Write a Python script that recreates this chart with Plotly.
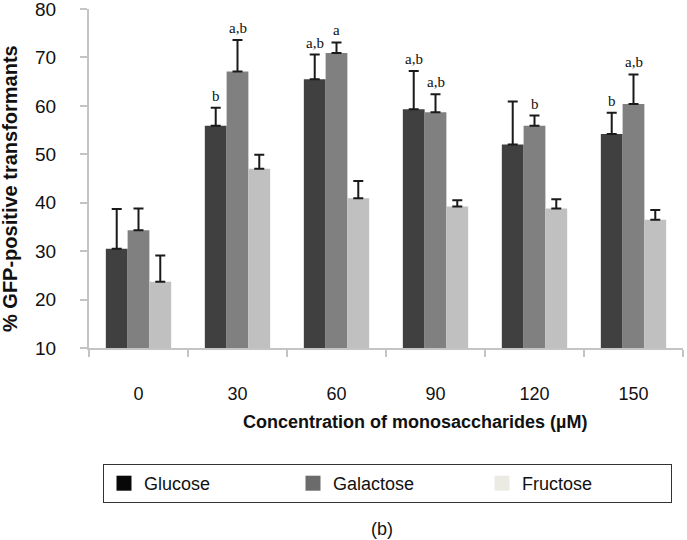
import plotly.graph_objects as go

categories = ["0", "30", "60", "90", "120", "150"]
glucose = [30.5, 55.9, 65.5, 59.3, 52.0, 54.2]
glucose_err = [8.2, 3.7, 5.1, 7.9, 8.9, 4.4]
galactose = [34.3, 67.1, 70.9, 58.7, 55.9, 60.4]
galactose_err = [4.5, 6.5, 2.2, 3.7, 2.1, 6.1]
fructose = [23.7, 47.0, 40.9, 39.2, 38.8, 36.5]
fructose_err = [5.4, 2.9, 3.6, 1.3, 1.9, 2.0]

glucose_marks = ["", "b", "a,b", "a,b", "", "b"]
galactose_marks = ["", "a,b", "a", "a,b", "b", "a,b"]

y_ticks = [10, 20, 30, 40, 50, 60, 70, 80]

series_names = ["Glucose", "Galactose", "Fructose"]
bar_colors = ["#404040", "#808080", "#c0c0c0"]
legend_colors = ["#080808", "#6b6b6b", "#ebebe3"]

TOP = 9
BASE = 348
PH = BASE - TOP

fig = go.Figure()
for name, vals, errs, col in zip(series_names,
                                 [glucose, galactose, fructose],
                                 [glucose_err, galactose_err, fructose_err],
                                 bar_colors):
    fig.add_trace(go.Bar(
        x=categories, y=vals, name=name, showlegend=False,
        marker=dict(color=col, line=dict(width=0)),
        error_y=dict(type="data", array=errs, arrayminus=[0] * len(errs),
                     symmetric=False, color="#1a1a1a", thickness=2, width=5),
    ))

for name, col in zip(series_names, legend_colors):
    fig.add_trace(go.Scatter(
        x=[categories[0]], y=[None], mode="markers", name=name,
        marker=dict(symbol="square", size=15, color=col),
    ))

bar_px = 594 / 6 * (1 - 0.34) / 3
for i, cat in enumerate(categories):
    for marks, vals, errs, shift in [(glucose_marks, glucose, glucose_err, -bar_px),
                                     (galactose_marks, galactose, galactose_err, 0)]:
        if marks[i]:
            fig.add_annotation(
                x=i, y=vals[i] + errs[i], text=marks[i], showarrow=False,
                xshift=shift, yshift=2, yanchor="bottom",
                font=dict(family="Liberation Serif, Times New Roman, serif", size=15, color="#111111"),
            )

fig.add_annotation(
    text="Concentration of monosaccharides (µM)", xref="paper", yref="paper",
    x=(415 - 89) / 594, y=(BASE - 422) / PH, showarrow=False,
    xanchor="center", yanchor="middle",
    font=dict(family="Liberation Sans, Arial, sans-serif", size=18, color="#111111", weight="bold"),
)
fig.add_annotation(
    text="% GFP-positive transformants", xref="paper", yref="paper",
    x=(10 - 89) / 594, y=(BASE - 189) / PH, showarrow=False, textangle=-90,
    xanchor="center", yanchor="middle",
    font=dict(family="Liberation Sans, Arial, sans-serif", size=20, color="#111111", weight="bold"),
)
fig.add_annotation(
    text="(b)", xref="paper", yref="paper",
    x=(382 - 89) / 594, y=(BASE - 529) / PH, showarrow=False,
    xanchor="center", yanchor="middle",
    font=dict(family="Liberation Sans, Arial, sans-serif", size=18, color="#111111"),
)

fig.update_layout(
    width=687, height=540,
    margin=dict(l=89, r=4, t=TOP, b=540 - BASE),
    paper_bgcolor="white", plot_bgcolor="white",
    barmode="group", bargap=0.34, bargroupgap=0,
    font=dict(family="Liberation Sans, Arial, sans-serif", color="#111111"),
    xaxis=dict(
        type="category", categoryorder="array", categoryarray=categories,
        range=[-0.5, 5.5], automargin=False,
        showline=True, linecolor="#c4c4c4", linewidth=2,
        ticks="outside", tickson="boundaries", ticklen=7, tickcolor="#c4c4c4", tickwidth=2,
        tickfont=dict(size=18, color="#111111"), ticklabelstandoff=28,
        showgrid=False, zeroline=False,
    ),
    yaxis=dict(
        range=[10, 80], tickvals=y_ticks, automargin=False,
        showline=True, linecolor="#c4c4c4", linewidth=2,
        ticks="outside", ticklen=7, tickcolor="#c4c4c4", tickwidth=2,
        tickfont=dict(size=19, color="#111111"), ticklabelstandoff=20,
        ticklabeloverflow="allow",
        showgrid=False, zeroline=False,
    ),
    legend=dict(
        orientation="h", x=(103 - 89) / 594, y=-(464 - BASE) / PH,
        xanchor="left", yanchor="top",
        bordercolor="#333333", borderwidth=1, bgcolor="white",
        entrywidth=144, font=dict(size=18, color="#111111"),
    ),
)

fig.write_html("out.html", config={"displayModeBar": False},
               post_script="document.body.style.margin='0px';")
